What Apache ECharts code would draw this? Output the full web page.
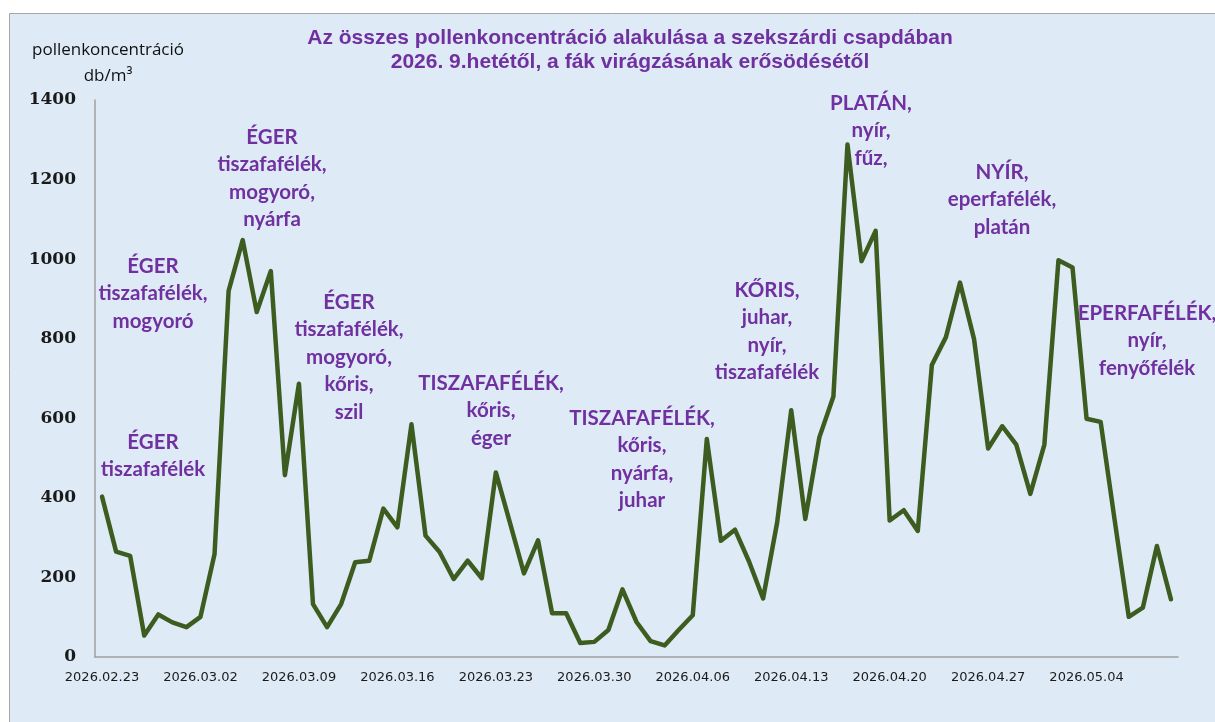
<!DOCTYPE html>
<html>
<head>
<meta charset="utf-8">
<script src="https://cdn.jsdelivr.net/npm/echarts@6/dist/echarts.min.js"></script>
<style>
html,body{margin:0;padding:0;background:#ffffff;}
#chart{width:1215px;height:722px;}
</style>
</head>
<body>
<div id="chart"></div>
<script>
const categories = [
 '2026.02.23','2026.02.24','2026.02.25','2026.02.26','2026.02.27','2026.02.28',
 '2026.03.01','2026.03.02','2026.03.03','2026.03.04','2026.03.05','2026.03.06','2026.03.07','2026.03.08','2026.03.09','2026.03.10',
 '2026.03.11','2026.03.12','2026.03.13','2026.03.14','2026.03.15','2026.03.16','2026.03.17','2026.03.18','2026.03.19','2026.03.20',
 '2026.03.21','2026.03.22','2026.03.23','2026.03.24','2026.03.25','2026.03.26','2026.03.27','2026.03.28','2026.03.29','2026.03.30','2026.03.31',
 '2026.04.01','2026.04.02','2026.04.03','2026.04.04','2026.04.05','2026.04.06','2026.04.07','2026.04.08','2026.04.09','2026.04.10',
 '2026.04.11','2026.04.12','2026.04.13','2026.04.14','2026.04.15','2026.04.16','2026.04.17','2026.04.18','2026.04.19','2026.04.20',
 '2026.04.21','2026.04.22','2026.04.23','2026.04.24','2026.04.25','2026.04.26','2026.04.27','2026.04.28','2026.04.29','2026.04.30',
 '2026.05.01','2026.05.02','2026.05.03','2026.05.04','2026.05.05','2026.05.06','2026.05.07','2026.05.08','2026.05.09','2026.05.10'
];
const pollenValues = [
 403,265,254,54,107,87,75,101,259,920,
 1048,867,970,457,687,133,75,133,238,242,
 373,326,585,305,264,196,242,198,464,338,
 210,293,110,110,35,38,68,170,88,40,
 29,68,105,548,292,320,240,147,338,620,
 347,552,655,1288,995,1071,343,369,317,734,
 804,941,799,524,580,534,410,534,997,979,
 599,591,343,101,124,279,145
];
const yTicks = [0,200,400,600,800,1000,1200,1400];
const titleLines = [
 'Az összes pollenkoncentráció alakulása a szekszárdi csapdában',
 '2026. 9.hetétől, a fák virágzásának erősödésétől'
];
const yAxisTitle = ['pollenkoncentráció','db/m³'];
const annotations = [
 {lines:['ÉGER','tiszafafélék'], x:153, y:442},
 {lines:['ÉGER','tiszafafélék,','mogyoró'], x:153, y:266},
 {lines:['ÉGER','tiszafafélék,','mogyoró,','nyárfa'], x:272, y:137},
 {lines:['ÉGER','tiszafafélék,','mogyoró,','kőris,','szil'], x:349, y:302},
 {lines:['TISZAFAFÉLÉK,','kőris,','éger'], x:491, y:383},
 {lines:['TISZAFAFÉLÉK,','kőris,','nyárfa,','juhar'], x:642, y:418},
 {lines:['KŐRIS,','juhar,','nyír,','tiszafafélék'], x:767, y:290},
 {lines:['PLATÁN,','nyír,','fűz,'], x:871, y:103},
 {lines:['NYÍR,','eperfafélék,','platán'], x:1002, y:172},
 {lines:['EPERFAFÉLÉK,','nyír,','fenyőfélék'], x:1147, y:313}
];

const purple = '#7030A0';
const chart = echarts.init(document.getElementById('chart'), null, {renderer:'canvas'});

const graphics = [
 {type:'rect', z:-10, shape:{x:9.5,y:13.5,width:1220,height:720},
  style:{fill:'#DEEAF6', stroke:'#A6A6A6', lineWidth:1}, silent:true},
 {type:'text', z:10, x:630, y:38, style:{text:titleLines[0], fill:purple,
  font:'bold 21px "Liberation Sans", Arial, sans-serif', textAlign:'center', textVerticalAlign:'middle'}},
 {type:'text', z:10, x:630, y:62, style:{text:titleLines[1], fill:purple,
  font:'bold 21px "Liberation Sans", Arial, sans-serif', textAlign:'center', textVerticalAlign:'middle'}},
 {type:'text', z:10, x:108, y:50, style:{text:yAxisTitle[0], fill:'#111',
  font:'17px "Open Sans", sans-serif', textAlign:'center', textVerticalAlign:'middle'}},
 {type:'text', z:10, x:108, y:76, style:{text:yAxisTitle[1], fill:'#111',
  font:'17px "Open Sans", sans-serif', textAlign:'center', textVerticalAlign:'middle'}}
];
annotations.forEach(a => {
 a.lines.forEach((ln, i) => {
  graphics.push({type:'text', z:10, x:a.x, y:a.y + i*27.5, style:{text:ln, fill:purple,
   font:'bold 20.5px Lato, "Open Sans", sans-serif', textAlign:'center', textVerticalAlign:'middle'}});
 });
});

chart.setOption({
 animation:false,
 backgroundColor:'transparent',
 grid:{left:95, right:37, top:100, bottom:65, containLabel:false},
 xAxis:{
  type:'category', data:categories, boundaryGap:true,
  axisLine:{show:true, lineStyle:{color:'#A0A0A0', width:1.5}},
  axisTick:{show:false},
  axisLabel:{interval:6, margin:14, color:'#1a1a1a', fontSize:13, fontFamily:'"DejaVu Sans", sans-serif'},
  splitLine:{show:false}
 },
 yAxis:{
  type:'value', min:yTicks[0], max:yTicks[yTicks.length-1], interval:200,
  axisLine:{show:true, lineStyle:{color:'#A0A0A0', width:1.5}},
  axisTick:{show:false},
  splitLine:{show:false},
  axisLabel:{margin:19, color:'#1a1a1a', fontSize:17, fontWeight:'bold', fontFamily:'"DejaVu Serif", serif',
   formatter: v => String(v)}
 },
 series:[{
  type:'line', data:pollenValues, symbol:'none', smooth:false,
  lineStyle:{color:'#3D5C1F', width:4.5, join:'round', cap:'round'}
 }],
 graphic:graphics
});
</script>
</body>
</html>
